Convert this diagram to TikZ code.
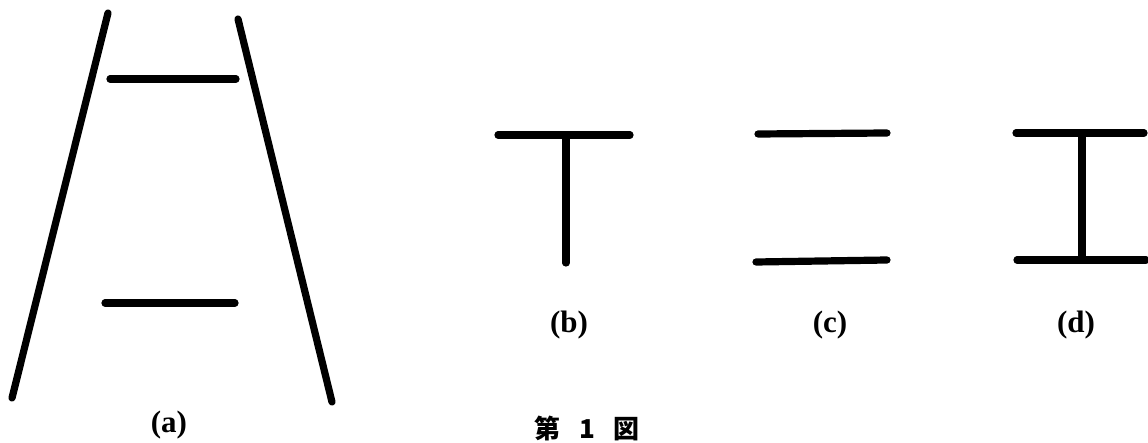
\documentclass[tikz,border=0pt]{standalone}
\usepackage{fontspec}
\setmainfont{Liberation Serif}
\newfontfamily\jpfont{Noto Sans CJK JP}
\begin{document}
\begin{tikzpicture}[
  x=0.5pt, y=-0.5pt,
  bar/.style={line width=3.6pt, line cap=round},
  lbl/.style={font=\fontsize{15.5}{17}\selectfont\bfseries}
]
  \useasboundingbox (0,0) rectangle (1148,443);

  % (a) ladder
  \coordinate (lt) at (108,13);  \coordinate (lb) at (12,398);
  \coordinate (rt) at (238,19);  \coordinate (rb) at (332,402);
  \coordinate (u1) at (110,79);  \coordinate (u2) at (236,79);
  \coordinate (v1) at (105,303); \coordinate (v2) at (235,303);
  \draw[bar] (lt) -- (lb);
  \draw[bar] (rt) -- (rb);
  \draw[bar] (u1) -- (u2);
  \draw[bar] (v1) -- (v2);
  \node[lbl] (la) at (169,425) {(a)};

  % (b)
  \coordinate (b1) at (498,135); \coordinate (b2) at (630,135);
  \coordinate (bt) at (566,135); \coordinate (bb) at (566,263);
  \draw[bar] (b1) -- (b2);
  \draw[bar] (bt) -- (bb);
  \node[lbl] (lbb) at (569,325) {(b)};

  % (c)
  \coordinate (c1) at (758,134); \coordinate (c2) at (887,133);
  \coordinate (c3) at (756,262); \coordinate (c4) at (887,260);
  \draw[bar] (c1) -- (c2);
  \draw[bar] (c3) -- (c4);
  \node[lbl] (lc) at (830,325) {(c)};

  % (d)
  \coordinate (d1) at (1016,133); \coordinate (d2) at (1144,133);
  \coordinate (d3) at (1017,260); \coordinate (d4) at (1146,260);
  \coordinate (dt) at (1082,133); \coordinate (db) at (1082,260);
  \draw[bar] (d1) -- (d2);
  \draw[bar] (d3) -- (d4);
  \draw[bar] (dt) -- (db);
  \node[lbl] (ld) at (1076,325) {(d)};

  \node[font=\jpfont\bfseries\fontsize{13}{15}\selectfont] (cap) at (587,428)
    {第\hspace{0.7em}1\hspace{0.7em}図};
\end{tikzpicture}
\end{document}
